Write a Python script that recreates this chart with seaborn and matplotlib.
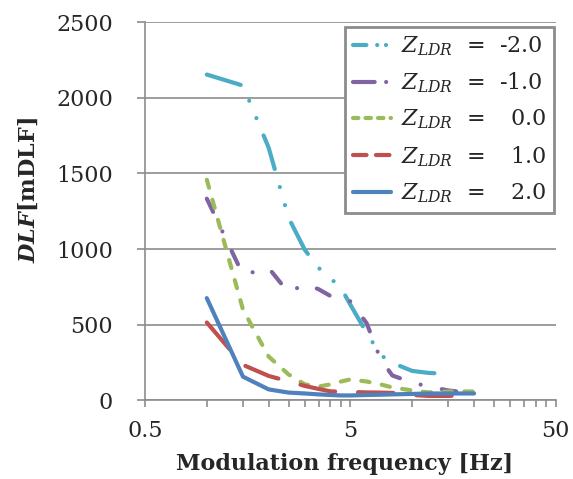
import numpy as np
import pandas as pd
import matplotlib
matplotlib.use("Agg")
import matplotlib.pyplot as plt
import seaborn as sns
from matplotlib.lines import Line2D
from matplotlib.ticker import FixedLocator, NullFormatter

sns.set_style("white")
plt.rcParams["font.family"] = ["DejaVu Serif"]
plt.rcParams["mathtext.fontset"] = "dejavuserif"

# modulation frequency [Hz]
freq = [1, 1.5, 2, 2.5, 3, 3.5, 4, 4.5, 5, 6, 7, 8, 10, 12, 15, 20]

# DLF [mDLF] for each Z_LDR
dlf_m2 = [2153, 2080, 1670, 1207, 995, 876, 807, 744, 632, 447, 301, 248, 195, 182, 175, np.nan]
dlf_m1 = [1333, 830, 875, 712, 770, 735, 690, 660, 655, 510, 275, 165, 118, 92, 66, 46]
dlf_0 = [1458, 600, 290, 172, 106, 92, 106, 125, 139, 125, 106, 86, 66, 53, 59, 59]
dlf_p1 = [515, 235, 162, 126, 96, 76, 60, 58, 56, 53, 52, 50, 36, 30, 30, 36]
dlf_p2 = [676, 157, 73, 52, 46, 40, 36, 33, 33, 36, 38, 40, 43, 46, 46, 46]

z_levels = ["-2.0", "-1.0", "0.0", "1.0", "2.0"]
colors = ["#4BACC6", "#8064A2", "#9BBB59", "#C0504D", "#4F81BD"]

df = pd.DataFrame({
    "freq": freq * 5,
    "dlf": dlf_m2 + dlf_m1 + dlf_0 + dlf_p1 + dlf_p2,
    "z": [z for z in z_levels for _ in freq],
}).dropna()

palette = dict(zip(z_levels, colors))
dashes = {
    "-2.0": (8.5, 4.5, 0.01, 4.5, 0.01, 4.5),
    "-1.0": (3.5, 5.2, 0.01, 5.2),
    "0.0": (2, 3),
    "1.0": (8.5, 5.5),
    "2.0": "",
}

fig = plt.figure(figsize=(5.73, 4.79), dpi=100)
ax = fig.add_axes([0.253, 0.164, 0.717, 0.790])

sns.lineplot(data=df, x="freq", y="dlf", hue="z", style="z",
             hue_order=z_levels, style_order=z_levels,
             palette=palette, dashes=dashes, lw=3,
             dash_capstyle="round", solid_capstyle="round",
             estimator=None, sort=False, legend=False, ax=ax)

gray = "#8c8c8c"
ax.set_xscale("log")
ax.set_xlim(0.5, 50)
ax.set_ylim(0, 2500)
ax.set_xticks([0.5, 5, 50])
ax.set_xticklabels(["0.5", "5", "50"])
minor = [0.5 * k for k in range(2, 10)] + [5 * k for k in range(2, 10)]
ax.xaxis.set_minor_locator(FixedLocator(minor))
ax.xaxis.set_minor_formatter(NullFormatter())
ax.set_yticks(range(0, 2501, 500))

ax.set_axisbelow(True)
ax.yaxis.grid(True, color=gray, lw=1.2)
ax.xaxis.grid(False)
for s in ["top", "right"]:
    ax.spines[s].set_visible(False)
for s in ["left", "bottom"]:
    ax.spines[s].set_color(gray)
    ax.spines[s].set_linewidth(1.2)

ax.tick_params(axis="x", which="both", bottom=True, direction="out",
               length=5, width=1.2, color=gray, labelsize=16, pad=9)
ax.tick_params(axis="y", left=True, direction="out", length=6,
               width=1.2, color=gray, labelsize=16, pad=17)

ax.set_xlabel("Modulation frequency [Hz]", fontsize=16, fontweight="bold")
ax.xaxis.set_label_coords(0.487, -0.14)
ax.set_ylabel(r"$\mathbfit{DLF}$[mDLF]", fontsize=16, fontweight="bold")
ax.yaxis.set_label_coords(-0.255, 0.556)

# legend handles drawn with shorter patterns, like the original
leg_dashes = [(3.2, 2.6, 0.01, 2.1, 0.01, 3), (5.2, 2.75, 0.01, 3),
              (1.3, 1.7), (3.25, 2.25), None]
handles = []
for z, c, d in zip(z_levels, colors, leg_dashes):
    h = Line2D([], [], color=c, lw=3, dash_capstyle="round",
               solid_capstyle="round")
    if d is not None:
        h.set_dashes(d)
    handles.append(h)
labels = []
for z in z_levels:
    val = z if z.startswith("-") else "\u2002" + z
    labels.append(r"$Z_{LDR}$" + "  =  " + val)

leg = ax.legend(handles, labels, loc="upper right", bbox_to_anchor=(0.995, 0.988),
                borderaxespad=0, fontsize=16, frameon=True, fancybox=False,
                framealpha=1, edgecolor=gray, handlelength=1.7,
                handletextpad=0.45, labelspacing=0.57, borderpad=0.35)
leg.get_frame().set_linewidth(2)

fig.savefig("out.png", dpi=100)
